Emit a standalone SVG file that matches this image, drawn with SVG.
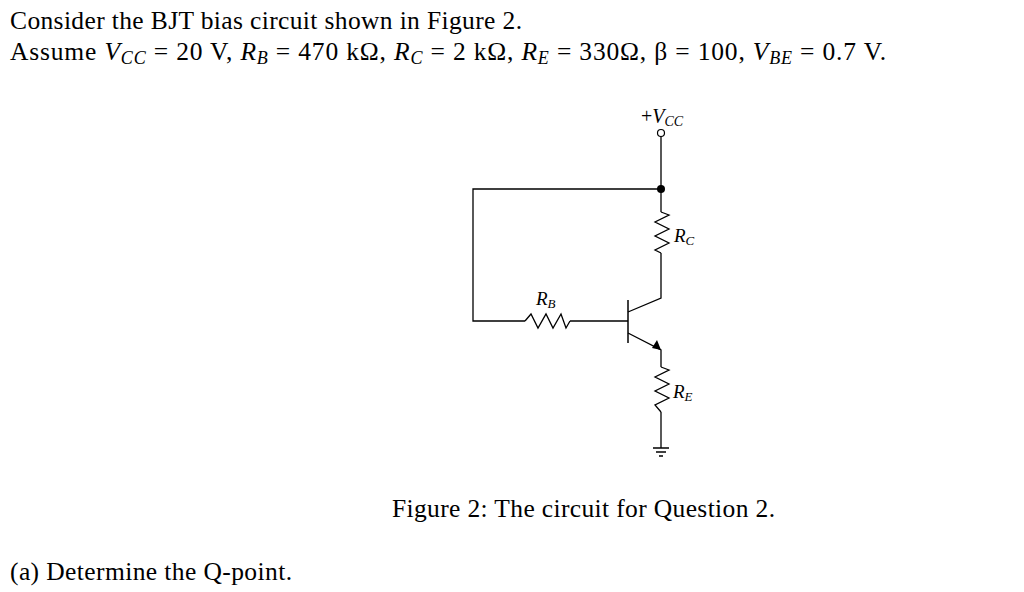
<svg xmlns="http://www.w3.org/2000/svg" width="1024" height="592" viewBox="0 0 1024 592">
<style>
text{font-family:"Liberation Serif","Times New Roman",serif;fill:#000}
.t{font-size:25.5px}
.i{font-style:italic}
.s{font-size:19px}
.w{stroke:#000;stroke-width:1.3;fill:none}
</style>
<rect width="1024" height="592" fill="#fff"/>
<text class="t" x="10" y="29" textLength="512">Consider the BJT bias circuit shown in Figure 2.</text>
<text class="t" x="10" y="60" textLength="876" lengthAdjust="spacing">Assume <tspan class="i">V</tspan><tspan class="i" font-size="18" dy="4">CC</tspan><tspan dy="-4"> = 20 V, </tspan><tspan class="i">R</tspan><tspan class="i" font-size="18" dy="4">B</tspan><tspan dy="-4"> = 470 kΩ, </tspan><tspan class="i">R</tspan><tspan class="i" font-size="18" dy="4">C</tspan><tspan dy="-4"> = 2 kΩ, </tspan><tspan class="i">R</tspan><tspan class="i" font-size="18" dy="4">E</tspan><tspan dy="-4"> = 330Ω, β = 100, </tspan><tspan class="i">V</tspan><tspan class="i" font-size="18" dy="4">BE</tspan><tspan dy="-4"> = 0.7 V.</tspan></text>
<g id="connectors">
<path class="w" d="M661,136 V189 H473 V321 H525"/>
<path class="w" d="M570,321 H628"/>
<path class="w" d="M661,189 V212"/>
<path class="w" d="M661,253 V298 L628,312"/>
<path class="w" d="M628,333 L661,350 V367"/>
<path class="w" d="M661,412 V448"/>
</g>
<g id="vcc"><circle cx="661" cy="133" r="3.5" fill="#fff" stroke="#000" stroke-width="1.2"/>
<text x="641" y="123" font-size="20">+<tspan class="i">V</tspan><tspan class="i" font-size="14" dy="3">CC</tspan></text></g>
<g id="node"><circle cx="661" cy="189" r="4" fill="#000"/></g>
<g id="rb"><path class="w" d="M525,321 L531,314 L538,328 L546,314 L553,328 L561,314 L566,328 L570,321"/>
<text x="536" y="305" class="s i">R<tspan font-size="13" dy="3">B</tspan></text></g>
<g id="rc"><path class="w" d="M661,212 L669,215 L655,222 L669,229 L655,236 L669,243 L655,250 L661,253"/>
<text x="674" y="242" class="s i">R<tspan font-size="13" dy="3">C</tspan></text></g>
<g id="re"><path class="w" d="M661,367 L669,370 L655,377 L669,384 L655,391 L669,398 L655,405 L661,412"/>
<text x="673" y="398" class="s i">R<tspan font-size="13" dy="3">E</tspan></text></g>
<g id="q"><path d="M628,300 V343" stroke="#000" stroke-width="1.5"/>
<path d="M661,350 L652,348 L657,340 Z" fill="#000"/></g>
<g id="gnd"><path class="w" d="M653,448 H669 M656,452 H666 M659,456 H663"/></g>
<text class="t" x="392" y="517" textLength="383">Figure 2: The circuit for Question 2.</text>
<text class="t" x="10" y="580" textLength="282">(a) Determine the Q-point.</text>
</svg>
